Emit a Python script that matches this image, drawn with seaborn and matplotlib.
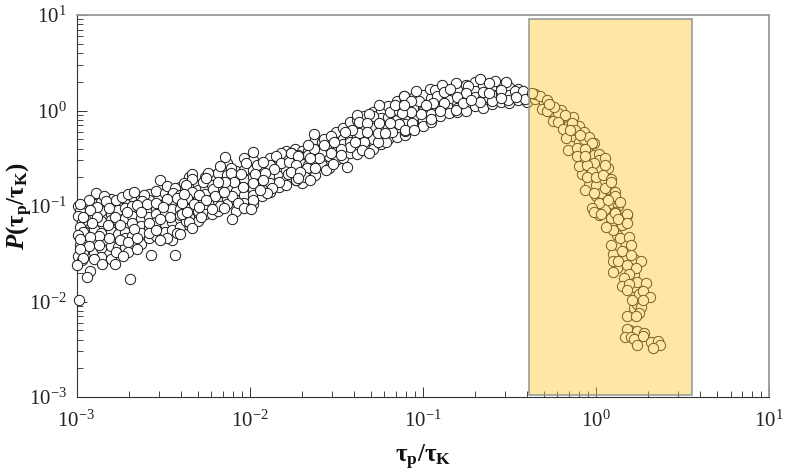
import numpy as np
import pandas as pd
import matplotlib
matplotlib.use('Agg')
import matplotlib.pyplot as plt
import seaborn as sns
from matplotlib.patches import Rectangle
from matplotlib.ticker import LogLocator, LogFormatterMathtext, NullFormatter

# values, as log10(tau_p/tau_K) and log10(P)
# circles mostly hidden under the others, column by column
under_columns = [
    (-2.95, [-1.05, -1.20, -1.27, -1.38, -1.50]),
    (-2.90, [-0.98, -1.08, -1.24, -1.37, -1.48]),
    (-2.86, [-0.96, -1.05, -1.16, -1.28, -1.44, -1.53]),
    (-2.80, [-0.93, -1.08, -1.15, -1.26, -1.42, -1.55]),
    (-2.76, [-0.99, -1.04, -1.16, -1.29, -1.43]),
    (-2.72, [-0.93, -1.02, -1.13, -1.27, -1.33, -1.43]),
    (-2.68, [-0.90, -1.00, -1.10, -1.18, -1.31, -1.42]),
    (-2.63, [-0.92, -1.00, -1.13, -1.21, -1.28, -1.40]),
    (-2.58, [-0.87, -0.94, -1.03, -1.12, -1.22, -1.34]),
    (-2.54, [-0.84, -1.03, -1.08, -1.17, -1.31]),
    (-2.49, [-0.86, -0.97, -1.06, -1.19, -1.27]),
    (-2.45, [-0.89, -0.97, -1.03, -1.17, -1.25, -1.36]),
    (-2.40, [-0.80, -0.95, -1.03, -1.14, -1.22]),
    (-2.35, [-0.70, -0.85, -0.97, -1.03, -1.12, -1.20]),
    (-2.30, [-0.78, -0.83, -0.93, -1.05, -1.16]),
    (-2.26, [-0.70, -0.80, -0.87, -1.00, -1.08]),
    (-2.22, [-0.68, -0.78, -0.93, -0.97, -1.08]),
    (-2.18, [-0.65, -0.80, -0.85, -0.95, -1.05]),
    (-2.13, [-0.55, -0.68, -0.80, -0.93, -0.98]),
    (-2.08, [-0.63, -0.70, -0.84, -0.94, -1.05]),
    (-2.03, [-0.50, -0.62, -0.72, -0.88, -0.97]),
    (-1.98, [-0.52, -0.62, -0.70, -0.82, -0.88, -0.98]),
    (-1.93, [-0.58, -0.70, -0.79, -0.90]),
    (-1.88, [-0.50, -0.57, -0.68, -0.76, -0.85]),
    (-1.83, [-0.50, -0.60, -0.69, -0.80]),
    (-1.79, [-0.42, -0.52, -0.62, -0.72, -0.78]),
    (-1.74, [-0.40, -0.53, -0.58, -0.68]),
    (-1.70, [-0.42, -0.50, -0.56, -0.66, -0.76]),
    (-1.66, [-0.42, -0.47, -0.57, -0.65]),
    (-1.62, [-0.30, -0.44, -0.52, -0.68]),
    (-1.58, [-0.33, -0.40, -0.50, -0.57]),
    (-1.54, [-0.34, -0.40, -0.48, -0.60]),
    (-1.50, [-0.22, -0.38, -0.43, -0.52]),
    (-1.46, [-0.18, -0.30, -0.35, -0.50]),
    (-1.42, [-0.12, -0.28, -0.33, -0.44]),
    (-1.38, [-0.10, -0.18, -0.28, -0.38, -0.46]),
    (-1.34, [-0.06, -0.17, -0.27, -0.37]),
    (-1.29, [-0.02, -0.10, -0.18, -0.30, -0.40]),
    (-1.24, [0.00, -0.08, -0.18, -0.28, -0.35]),
    (-1.20, [0.05, -0.07, -0.17, -0.30]),
    (-1.15, [0.10, -0.05, -0.10, -0.18, -0.28]),
    (-1.10, [0.10, 0.02, -0.07, -0.14, -0.26]),
    (-1.05, [0.14, 0.04, -0.06, -0.16]),
    (-1.00, [0.16, 0.03, -0.01, -0.10, -0.16]),
    (-0.95, [0.13, 0.03, -0.04, -0.12]),
    (-0.90, [0.20, 0.11, 0.04, -0.06]),
    (-0.85, [0.16, 0.11, 0.03, -0.03]),
    (-0.80, [0.22, 0.07, 0.03, -0.02]),
    (-0.75, [0.27, 0.12, 0.06, 0.00]),
    (-0.70, [0.30, 0.20, 0.14, 0.05]),
    (-0.65, [0.27, 0.13, 0.03]),
    (-0.60, [0.26, 0.16, 0.07]),
    (-0.55, [0.27, 0.17, 0.09]),
    (-0.50, [0.25, 0.16, 0.08]),
    (-0.45, [0.23, 0.11]),
    (-0.40, [0.17, 0.09]),
    (-0.35, [0.12, 0.17]),
    (-0.30, [0.08]),
    (-0.26, [-0.02, 0.00]),
    (-0.20, [0.01, -0.10]),
    (-0.16, [-0.08, -0.16]),
    (-0.13, [-0.27, -0.07]),
    (-0.10, [-0.16, -0.33]),
    (-0.08, [-0.50, -0.66]),
    (-0.07, [-0.22, -0.30]),
    (-0.04, [-0.28, -0.44, -0.72, -0.78]),
    (-0.01, [-0.34, -0.47]),
    (0.00, [-0.78, -0.90]),
    (0.02, [-0.46, -0.52, -0.62]),
    (0.03, [-0.86]),
    (0.05, [-0.50, -1.03]),
    (0.07, [-0.60, -0.82]),
    (0.09, [-1.18]),
    (0.10, [-0.98, -1.50]),
    (0.11, [-0.85, -0.90]),
    (0.12, [-1.30, -1.65]),
    (0.13, [-1.00]),
    (0.15, [-1.13, -1.20]),
    (0.17, [-1.38, -1.53]),
    (0.19, [-2.30]),
    (0.20, [-2.31]),
    (0.22, [-1.55, -1.72, -1.85, -2.07]),
    (0.24, [-2.03, -2.31]),
    (0.25, [-1.92]),
    (0.26, [-2.06]),
]

left_x = [-2.99, -2.98, -2.99, -2.97, -2.98, -2.96, -2.99, -2.97, -2.98, -2.96, -2.99, -2.97,
          -2.52, -2.48, -2.43, -2.38, -2.36, -2.44, -2.40, -2.48, -2.42, -2.37, -2.89, -2.93, -2.98,
          -2.84, -2.83, -2.77, -2.74, -2.70, -2.67, -2.61, -2.62, -2.59, -2.65, -2.54, -2.50, -2.46,
          -2.40, -2.37, -2.52, -2.58, -2.63, -2.71, -2.78, -2.81, -2.88, -2.92, -2.96, -2.88, -2.91,
          -2.82, -2.75, -2.67, -2.58, -2.54, -2.48, -2.42, -2.52, -2.75, -2.81, -2.87, -2.92, -2.98,
          -2.93, -2.98, -2.87, -2.70, -2.65, -2.77, -2.70, -2.65, -2.73, -2.57, -2.43, -2.96, -2.90,
          -2.85, -3.00, -2.78, -2.92, -2.94, -2.69, -2.987]
left_y = [-1.00, -1.05, -1.10, -1.17, -1.22, -1.27, -1.30, -1.37, -1.41, -1.48, -1.52, -1.57,
          -0.73, -0.79, -0.81, -0.76, -0.83, -0.86, -0.88, -0.93, -0.92, -0.92, -0.86, -0.94, -0.98,
          -0.90, -0.95, -0.94, -0.91, -0.87, -0.85, -0.88, -0.95, -0.98, -0.99, -0.97, -1.01, -1.11,
          -1.09, -1.16, -1.14, -1.18, -1.06, -1.06, -1.11, -1.02, -1.01, -1.04, -1.11, -1.12, -1.18,
          -1.20, -1.20, -1.24, -1.28, -1.25, -1.33, -1.28, -1.36, -1.36, -1.34, -1.31, -1.32, -1.35,
          -1.42, -1.45, -1.41, -1.38, -1.34, -1.48, -1.48, -1.45, -1.52, -1.51, -1.51, -1.54, -1.56,
          -1.61, -1.62, -1.61, -1.68, -1.74, -1.76, -1.98]

mid_x = [-1.98, -2.14, -2.17, -2.11, -2.11, -2.02, -1.96, -1.92, -1.82, -1.76, -1.85, -1.82, -1.77,
         -1.72, -1.72, -1.78, -1.73, -1.86, -1.91, -1.97, -2.05, -1.92, -1.83, -1.87, -1.90, -1.98,
         -2.04, -2.09, -2.14, -2.21, -2.27, -2.24, -2.33, -2.33, -2.37, -2.33, -2.29, -2.36, -2.20,
         -2.10, -2.15, -2.32, -2.25, -2.17, -2.07, -1.98, -2.03, -1.99, -2.22, -2.28, -2.35, -2.33,
         -2.39, -2.10, -2.40, -2.29, -2.15, -2.36, -2.39, -2.18, -2.38, -1.94, -2.25]
mid_y = [-0.43, -0.49, -0.58, -0.60, -0.65, -0.55, -0.57, -0.54, -0.44, -0.45, -0.48, -0.55, -0.54,
         -0.47, -0.61, -0.66, -0.73, -0.61, -0.65, -0.66, -0.66, -0.73, -0.75, -0.81, -0.86, -0.76,
         -0.80, -0.75, -0.75, -0.82, -0.75, -0.65, -0.67, -0.72, -0.78, -0.85, -0.88, -0.92, -0.90,
         -0.90, -0.85, -0.98, -0.94, -1.00, -0.97, -0.94, -1.02, -1.03, -1.03, -1.12, -1.17, -1.23,
         -1.08, -1.14, -1.29, -1.01, -1.02, -1.06, -0.97, -0.75, -0.87, -0.83, -0.71]

rise_x = [-1.11, -1.25, -1.38, -1.29, -1.19, -1.14, -1.10, -1.16, -1.31, -1.37, -1.32, -1.25, -1.14,
          -1.18, -1.10, -1.21, -1.26, -1.26, -1.37, -1.41, -1.45, -1.32, -1.63, -1.57, -1.53, -1.34,
          -1.42, -1.47, -1.35, -1.31, -1.53, -1.59, -1.63, -1.66, -1.76, -1.72, -1.60, -1.67, -1.62,
          -1.56, -1.52, -1.47, -1.44, -1.73, -1.68, -1.65, -1.73, -1.76, -1.71, -1.65, -1.51, -1.39,
          -1.57, -1.72, -1.19, -1.22]
rise_y = [0.15, 0.06, -0.05, -0.06, -0.02, 0.00, -0.01, 0.06, -0.04, -0.12, -0.13, -0.13, -0.14,
          -0.22, -0.21, -0.33, -0.33, -0.24, -0.24, -0.20, -0.23, -0.22, -0.25, -0.30, -0.27, -0.33,
          -0.38, -0.40, -0.41, -0.44, -0.45, -0.45, -0.40, -0.36, -0.44, -0.48, -0.50, -0.60, -0.60,
          -0.62, -0.56, -0.47, -0.59, -0.57, -0.70, -0.73, -0.73, -0.64, -0.64, -0.50, -0.33, -0.33,
          -0.36, -0.71, -0.13, -0.24]

peak_x = [-1.11, -1.04, -0.96, -0.93, -0.89, -0.92, -0.88, -0.81, -0.84, -0.74, -0.67, -0.58, -0.52,
          -0.62, -0.65, -0.55, -0.47, -0.42, -0.41, -0.60, -0.67, -0.75, -0.80, -0.81, -0.88, -0.94,
          -1.02, -1.07, -1.07, -1.01, -0.95, -1.06, -1.10, -1.05, -1.12, -1.11, -0.98, -0.90, -0.77,
          -0.72, -0.51, -0.46, -0.55, -0.62]
peak_y = [0.15, 0.20, 0.22, 0.21, 0.27, 0.15, 0.19, 0.285, 0.23, 0.26, 0.33, 0.31, 0.30,
          0.29, 0.19, 0.21, 0.20, 0.20, 0.12, 0.10, 0.09, 0.18, 0.145, 0.01, 0.08, 0.08,
          0.10, 0.10, -0.02, -0.04, -0.09, -0.13, -0.20, -0.20, -0.03, 0.06, 0.06, -0.01, 0.08,
          0.11, 0.11, 0.145, 0.13, 0.18]

fall_x = [-0.32, -0.28, -0.31, -0.28, -0.22, -0.18, -0.25, -0.22, -0.19, -0.14, -0.12, -0.17, -0.09,
          -0.02, -0.16, -0.11, -0.06, -0.11, -0.01, -0.10, -0.05, 0.05, -0.02, -0.05, 0.00, 0.04,
          0.09, -0.06, -0.01, 0.05, 0.09, 0.02, 0.07, 0.14, -0.02, 0.02, 0.11, 0.18, 0.09, -0.37,
          -0.24, -0.27, -0.15, -0.06]
fall_y = [0.15, 0.11, 0.02, -0.01, -0.03, -0.05, -0.11, -0.12, -0.19, -0.13, -0.20, -0.29, -0.26,
          -0.34, -0.41, -0.39, -0.40, -0.48, -0.55, -0.58, -0.57, -0.57, -0.64, -0.70, -0.70, -0.68,
          -0.72, -0.83, -0.86, -0.81, -0.75, -0.97, -0.94, -0.96, -1.02, -1.09, -1.06, -1.09, -1.13,
          0.18, 0.04, 0.07, -0.20, -0.48]

tail_x = [-0.01, 0.03, 0.11, 0.18, 0.13, 0.18, 0.10, 0.06, 0.14, 0.19, 0.09, 0.20, 0.15, 0.20, 0.10,
          0.13, 0.18, 0.26, 0.23, 0.10, 0.19, 0.16, 0.24, 0.15, 0.19, 0.29, 0.18, 0.27, 0.31, 0.21,
          0.27, 0.25, 0.18, 0.23, 0.18, 0.17, 0.20, 0.22, 0.28, 0.27, 0.24, 0.32, 0.36, 0.37, 0.33]
tail_y = [-1.06, -1.08, -1.07, -1.08, -1.14, -1.18, -1.25, -1.22, -1.34, -1.32, -1.41, -1.41, -1.47,
          -1.51, -1.58, -1.58, -1.62, -1.58, -1.65, -1.69, -1.71, -1.75, -1.80, -1.84, -1.82, -1.81,
          -1.88, -1.89, -1.95, -1.98, -1.98, -2.12, -2.15, -2.15, -2.29, -2.37, -2.37, -2.39, -2.33,
          -2.36, -2.46, -2.42, -2.41, -2.46, -2.49]

band_xmin, band_xmax = 0.41, 3.58
band_ymin, band_ymax = 0.00104, 9.08

x_ticks = [1e-3, 1e-2, 1e-1, 1e0, 1e1]
y_ticks = [1e-3, 1e-2, 1e-1, 1e0, 1e1]

sns.set_theme(style='ticks')
plt.rcParams['font.family'] = ['Liberation Serif', 'DejaVu Serif']
plt.rcParams['mathtext.fontset'] = 'custom'
plt.rcParams['mathtext.rm'] = 'Liberation Serif'
plt.rcParams['mathtext.it'] = 'Liberation Serif:italic'
plt.rcParams['mathtext.bf'] = 'Liberation Serif:bold'
plt.rcParams['mathtext.bfit'] = 'Liberation Serif:italic:bold'

under_x = [x for x, ys in under_columns for y in ys]
under_y = [y for x, ys in under_columns for y in ys]

df = pd.DataFrame({
    'tau': 10.0 ** np.array(under_x + left_x + mid_x + rise_x + peak_x + fall_x + tail_x),
    'p': 10.0 ** np.array(under_y + left_y + mid_y + rise_y + peak_y + fall_y + tail_y),
})

fig = plt.figure(figsize=(7.85, 4.74), dpi=100)
ax = fig.add_axes([76.5 / 785, 1 - 397 / 474, (769 - 76.5) / 785, (397 - 15) / 474])

sns.scatterplot(data=df, x='tau', y='p', ax=ax, s=55, color='white',
                edgecolor='#1a1a1a', linewidth=0.7, clip_on=False, zorder=3)

ax.set_xscale('log')
ax.set_yscale('log')
ax.set_xlim(1e-3, 1e1)
ax.set_ylim(1e-3, 1e1)

# translucent band on top, so the circles show through it
ax.add_patch(Rectangle((band_xmin, band_ymin), band_xmax - band_xmin, band_ymax - band_ymin,
                       facecolor='#fdc629', edgecolor='none', alpha=0.42, zorder=4))
ax.add_patch(Rectangle((band_xmin, band_ymin), band_xmax - band_xmin, band_ymax - band_ymin,
                       facecolor='none', edgecolor='#8f9896', linewidth=1.1, zorder=5))

for axis, ticks in ((ax.xaxis, x_ticks), (ax.yaxis, y_ticks)):
    axis.set_major_locator(LogLocator(base=10, numticks=10))
    axis.set_minor_locator(LogLocator(base=10, subs=np.arange(2, 10), numticks=10))
    axis.set_major_formatter(LogFormatterMathtext())
    axis.set_minor_formatter(NullFormatter())
    axis.set_ticks(ticks)

ax.tick_params(which='major', direction='in', length=7.5, width=0.7, color='#333333',
               labelsize=15, labelcolor='#222222')
ax.tick_params(which='minor', direction='in', length=4.2, width=0.7, color='#444444')
ax.tick_params(axis='x', which='major', pad=10)
ax.tick_params(axis='y', which='major', pad=7)

for side in ('left', 'bottom'):
    ax.spines[side].set_color('#333333')
    ax.spines[side].set_linewidth(0.8)
for side in ('top', 'right'):
    ax.spines[side].set_color('#9a9a9a')
    ax.spines[side].set_linewidth(1.3)

ax.set_xlabel(r'$\mathbf{τ_p/τ_K}$', fontsize=18, color='#111111')
ax.set_ylabel(r'$\mathbfit{P}\mathbf{(τ_p/τ_K)}$', fontsize=18, color='#111111')
ax.xaxis.set_label_coords(0.5, -(457 - 397) / 382, transform=ax.transAxes)
ax.xaxis.label.set_verticalalignment('center')
ax.yaxis.set_label_coords(-(76.5 - 20) / 692.5, 0.5, transform=ax.transAxes)
ax.yaxis.label.set_verticalalignment('center')

fig.savefig('out.png', dpi=100)
